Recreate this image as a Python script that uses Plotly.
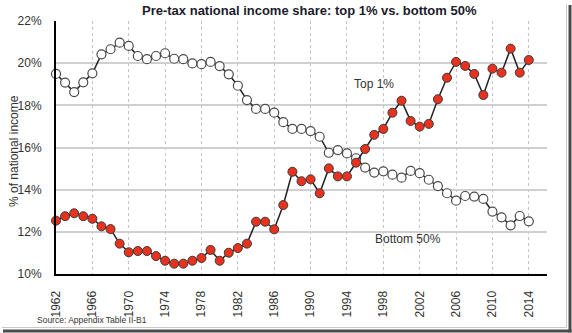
import plotly.graph_objects as go

# Pre-tax national income shares, 1962-2014 (percent)
years = list(range(1962, 2015))

top1 = [12.53, 12.74, 12.88, 12.74, 12.62, 12.26, 12.13, 11.44, 11.03, 11.09,
        11.09, 10.85, 10.63, 10.49, 10.49, 10.63, 10.76, 11.14, 10.63, 11.01,
        11.23, 11.44, 12.48, 12.48, 12.12, 13.27, 14.85, 14.40, 14.49, 13.83,
        15.01, 14.63, 14.63, 15.28, 15.93, 16.60, 16.88, 17.65, 18.22, 17.26,
        16.99, 17.12, 18.29, 19.31, 20.06, 19.87, 19.49, 18.49, 19.74, 19.55,
        20.69, 19.55, 20.15]

bottom50 = [19.49, 19.08, 18.63, 19.09, 19.52, 20.42, 20.66, 20.97, 20.82, 20.34,
            20.19, 20.34, 20.47, 20.21, 20.19, 19.99, 19.95, 20.06, 19.86, 19.47,
            18.93, 18.25, 17.83, 17.83, 17.65, 17.20, 16.88, 16.88, 16.78, 16.51,
            15.75, 15.88, 15.72, 15.49, 15.05, 14.81, 14.87, 14.71, 14.57, 14.89,
            14.78, 14.47, 14.17, 13.83, 13.48, 13.70, 13.67, 13.56, 12.96, 12.69,
            12.31, 12.75, 12.50]

y_ticks = [10, 12, 14, 16, 18, 20, 22]
y_tick_labels = ["10%", "12%", "14%", "16%", "18%", "20%", "22%"]

title_text = "Pre-tax national income share: top 1% vs. bottom 50%"
y_title = "% of national income"
source_text = "Source: Appendix Table II-B1"

W, H = 572, 333
L, R, T, B = 56, 547, 21, 274  # plot area in pixels


def px(x):
    return (x - L) / (R - L)


def py(y):
    return (B - y) / (B - T)


FONT = "Liberation Sans, Arial, sans-serif"

fig = go.Figure()

fig.add_trace(go.Scatter(
    x=years, y=bottom50, mode="lines+markers", name="Bottom 50%",
    line=dict(color="#222222", width=1.5),
    marker=dict(symbol="circle", size=9, color="#ffffff",
                line=dict(color="#4a4a4a", width=1.2)),
    cliponaxis=False, showlegend=False,
))

fig.add_trace(go.Scatter(
    x=years, y=top1, mode="lines+markers", name="Top 1%",
    line=dict(color="#222222", width=1.5),
    marker=dict(symbol="circle", size=9, color="#e8321e",
                line=dict(color="#3a3a3a", width=1)),
    cliponaxis=False, showlegend=False,
))

annotations = [
    dict(text="<b>" + title_text + "</b>", x=px(309), y=py(10),
         xanchor="center", yanchor="middle", showarrow=False,
         font=dict(family=FONT, size=13, color="#1c1c2c")),
    dict(text=y_title, x=px(14), y=py(151), textangle=-90,
         xanchor="center", yanchor="middle", showarrow=False,
         font=dict(family=FONT, size=12, color="#333333")),
    dict(text=source_text, x=px(35), y=py(320),
         xanchor="left", yanchor="middle", showarrow=False,
         font=dict(family=FONT, size=8.5, color="#333333")),
    dict(text="Top 1%", x=px(352), y=py(84),
         xanchor="left", yanchor="middle", showarrow=False,
         font=dict(family=FONT, size=12, color="#333333")),
    dict(text="Bottom 50%", x=px(373), y=py(239),
         xanchor="left", yanchor="middle", showarrow=False,
         font=dict(family=FONT, size=12, color="#333333")),
]
for a in annotations:
    a.update(xref="paper", yref="paper")

# frame with drop shadow around the figure
shapes = [
    dict(type="line", x0=px(566.5), x1=px(566.5), y0=py(4), y1=py(327.5),
         line=dict(color="#c8c8c8", width=1)),
    dict(type="line", x0=px(2), x1=px(566.5), y0=py(327.5), y1=py(327.5),
         line=dict(color="#c8c8c8", width=1)),
    dict(type="line", x0=px(570), x1=px(570), y0=py(5), y1=py(332.5),
         line=dict(color="#4a4a4a", width=3)),
    dict(type="line", x0=px(3), x1=px(571.5), y0=py(331), y1=py(331),
         line=dict(color="#4a4a4a", width=3)),
]
for s in shapes:
    s.update(xref="paper", yref="paper", layer="above")

fig.update_layout(
    width=W, height=H,
    margin=dict(l=L, r=W - R, t=T, b=H - B, pad=0),
    paper_bgcolor="#ffffff", plot_bgcolor="#ffffff",
    font=dict(family=FONT, size=12, color="#333333"),
    annotations=annotations, shapes=shapes,
    showlegend=False,
)

fig.update_xaxes(
    range=[1962, 2016], tick0=1962, dtick=4, tickangle=-90,
    showgrid=True, gridcolor="#c4c4c4", gridwidth=1, griddash="dot",
    showline=True, linecolor="#000000", linewidth=2,
    ticks="", ticklabelstandoff=10, zeroline=False,
    tickfont=dict(family=FONT, size=12, color="#333333"),
)

fig.update_yaxes(
    range=[10, 22], tickvals=y_ticks, ticktext=y_tick_labels,
    showgrid=True, gridcolor="#d0d0d0", gridwidth=2,
    showline=True, linecolor="#000000", linewidth=2,
    ticks="", ticklabelstandoff=10, zeroline=False,
    tickfont=dict(family=FONT, size=12, color="#333333"),
)

fig.write_html("out.html")
